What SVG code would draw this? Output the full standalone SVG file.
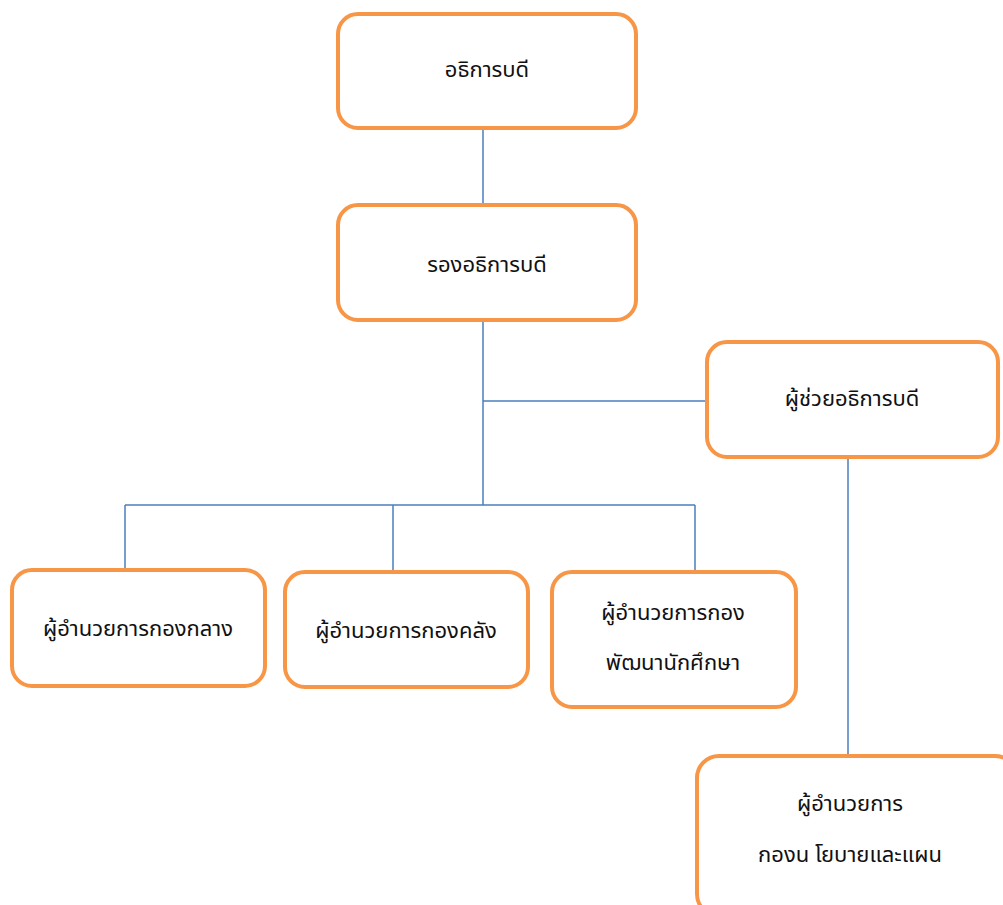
<svg xmlns="http://www.w3.org/2000/svg" width="1003" height="905" viewBox="0 0 1003 905">
<style>
.box{fill:#ffffff;stroke:#F79646;stroke-width:4}
.t{font-family:"Noto Sans Thai","Noto Sans","DejaVu Sans",sans-serif;font-size:22px;fill:#111111;text-anchor:middle;dominant-baseline:central}
.c{stroke:#4A7EBB;stroke-width:1.5;fill:none}
</style>
<rect width="1003" height="905" fill="#ffffff"/>
<g id="connectors">
<path class="c" d="M483 128V205"/>
<path class="c" d="M483 320V505"/>
<path class="c" d="M483 401H707"/>
<path class="c" d="M125 505H695"/>
<path class="c" d="M125 505V570"/>
<path class="c" d="M393 505V572"/>
<path class="c" d="M695 505V572"/>
<path class="c" d="M848 457V755"/>
</g>
<g id="n1"><rect class="box" x="338" y="14" width="298" height="114" rx="20"/><text class="t" x="487" y="70">อธิการบดี</text></g>
<g id="n2"><rect class="box" x="338" y="205" width="298" height="115" rx="20"/><text class="t" x="487" y="265">รองอธิการบดี</text></g>
<g id="n3"><rect class="box" x="707" y="342" width="291" height="115" rx="20"/><text class="t" x="852" y="399">ผู้ช่วยอธิการบดี</text></g>
<g id="n4"><rect class="box" x="12" y="570" width="253" height="116" rx="20"/><text class="t" x="138" y="629">ผู้อำนวยการกองกลาง</text></g>
<g id="n5"><rect class="box" x="285" y="572" width="243" height="115" rx="20"/><text class="t" x="406" y="631">ผู้อำนวยการกองคลัง</text></g>
<g id="n6"><rect class="box" x="552" y="572" width="244" height="135" rx="20"/><text class="t" x="673" y="613">ผู้อำนวยการกอง</text><text class="t" x="673" y="663">พัฒนานักศึกษา</text></g>
<g id="n7"><rect class="box" x="697" y="756" width="320" height="160" rx="22"/><text class="t" x="850" y="804">ผู้อำนวยการ</text><text class="t" x="850" y="855">กองน โยบายและแผน</text></g>
</svg>
